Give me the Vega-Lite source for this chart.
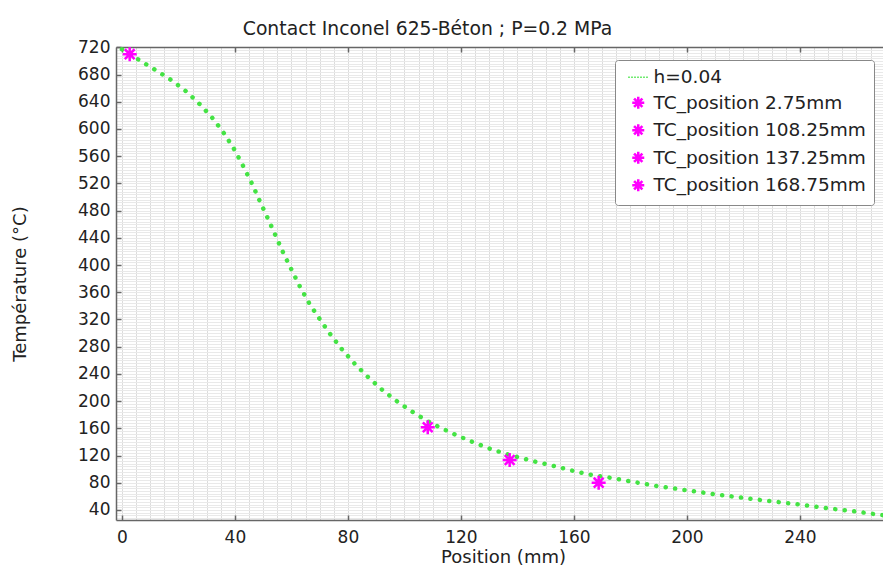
{
  "$schema": "https://vega.github.io/schema/vega-lite/v6.json",
  "width": 767,
  "height": 473,
  "autosize": "none",
  "padding": {"left": 116, "top": 47, "right": 0, "bottom": 48},
  "background": "white",
  "config": {"font": "DejaVu Sans", "view": {"stroke": null}},
  "title": {
    "text": "Contact Inconel 625-Béton ; P=0.2 MPa",
    "fontSize": 18.8,
    "fontWeight": "normal",
    "color": "#222",
    "anchor": "middle",
    "dx": -72,
    "baseline": "alphabetic",
    "offset": -15
  },
  "datasets": {
    "curve": [
      {"x": 0, "T": 717, "serie": "h=0.04"},
      {"x": 2.75, "T": 710, "serie": "h=0.04"},
      {"x": 6.6, "T": 700, "serie": "h=0.04"},
      {"x": 12.3, "T": 685.6, "serie": "h=0.04"},
      {"x": 17.8, "T": 671, "serie": "h=0.04"},
      {"x": 23.1, "T": 654, "serie": "h=0.04"},
      {"x": 27.9, "T": 635, "serie": "h=0.04"},
      {"x": 32.5, "T": 614, "serie": "h=0.04"},
      {"x": 36.5, "T": 591.5, "serie": "h=0.04"},
      {"x": 39.9, "T": 569, "serie": "h=0.04"},
      {"x": 43.1, "T": 544, "serie": "h=0.04"},
      {"x": 46.1, "T": 519, "serie": "h=0.04"},
      {"x": 48.8, "T": 494, "serie": "h=0.04"},
      {"x": 51.7, "T": 468, "serie": "h=0.04"},
      {"x": 54.4, "T": 443, "serie": "h=0.04"},
      {"x": 57.1, "T": 418, "serie": "h=0.04"},
      {"x": 60.1, "T": 392.5, "serie": "h=0.04"},
      {"x": 63.1, "T": 367.5, "serie": "h=0.04"},
      {"x": 66.4, "T": 343, "serie": "h=0.04"},
      {"x": 70.1, "T": 320, "serie": "h=0.04"},
      {"x": 74.0, "T": 297, "serie": "h=0.04"},
      {"x": 78.1, "T": 275, "serie": "h=0.04"},
      {"x": 82.6, "T": 254, "serie": "h=0.04"},
      {"x": 87.3, "T": 234.6, "serie": "h=0.04"},
      {"x": 92.3, "T": 216, "serie": "h=0.04"},
      {"x": 97.6, "T": 199, "serie": "h=0.04"},
      {"x": 103.3, "T": 183, "serie": "h=0.04"},
      {"x": 108, "T": 171, "serie": "h=0.04"},
      {"x": 112, "T": 162.5, "serie": "h=0.04"},
      {"x": 118, "T": 150.7, "serie": "h=0.04"},
      {"x": 124.1, "T": 140, "serie": "h=0.04"},
      {"x": 130.5, "T": 129.7, "serie": "h=0.04"},
      {"x": 136.7, "T": 121.5, "serie": "h=0.04"},
      {"x": 146.4, "T": 111, "serie": "h=0.04"},
      {"x": 152.9, "T": 104.7, "serie": "h=0.04"},
      {"x": 159.5, "T": 97.8, "serie": "h=0.04"},
      {"x": 165, "T": 92.5, "serie": "h=0.04"},
      {"x": 172.7, "T": 87.5, "serie": "h=0.04"},
      {"x": 179.2, "T": 82.6, "serie": "h=0.04"},
      {"x": 189.3, "T": 75.3, "serie": "h=0.04"},
      {"x": 199.3, "T": 69.4, "serie": "h=0.04"},
      {"x": 209.3, "T": 63.5, "serie": "h=0.04"},
      {"x": 219.4, "T": 58.1, "serie": "h=0.04"},
      {"x": 229.1, "T": 53.2, "serie": "h=0.04"},
      {"x": 239.2, "T": 48.4, "serie": "h=0.04"},
      {"x": 249.2, "T": 42.9, "serie": "h=0.04"},
      {"x": 259.1, "T": 38.1, "serie": "h=0.04"},
      {"x": 268.9, "T": 32.6, "serie": "h=0.04"},
      {"x": 272, "T": 31, "serie": "h=0.04"}
    ],
    "tc": [
      {"x": 2.75, "T": 710, "serie": "TC_position 2.75mm"},
      {"x": 108.25, "T": 161.6, "serie": "TC_position 108.25mm"},
      {"x": 137.25, "T": 113.5, "serie": "TC_position 137.25mm"},
      {"x": 168.75, "T": 80.2, "serie": "TC_position 168.75mm"}
    ]
  },
  "encoding": {
    "y": {
      "field": "T",
      "type": "quantitative",
      "scale": {"domain": [25.3, 720.5], "nice": false, "zero": false},
      "axis": {
        "orient": "left",
        "values": [28,32,36,40,44,48,52,56,60,64,68,72,76,80,84,88,92,96,100,104,108,112,116,120,124,128,132,136,140,144,148,152,156,160,164,168,172,176,180,184,188,192,196,200,204,208,212,216,220,224,228,232,236,240,244,248,252,256,260,264,268,272,276,280,284,288,292,296,300,304,308,312,316,320,324,328,332,336,340,344,348,352,356,360,364,368,372,376,380,384,388,392,396,400,404,408,412,416,420,424,428,432,436,440,444,448,452,456,460,464,468,472,476,480,484,488,492,496,500,504,508,512,516,520,524,528,532,536,540,544,548,552,556,560,564,568,572,576,580,584,588,592,596,600,604,608,612,616,620,624,628,632,636,640,644,648,652,656,660,664,668,672,676,680,684,688,692,696,700,704,708,712,716,720],
        "grid": true,
        "gridColor": "#e9e9e9",
        "gridWidth": 1,
        "domainColor": "#666",
        "domainWidth": 1.5,
        "tickColor": "#666",
        "tickWidth": 1.5,
        "tickSize": -5,
        "tickOpacity": {"condition": {"test": "datum.value % 40 === 0", "value": 1}, "value": 0},
        "labelExpr": "datum.value % 40 === 0 ? datum.label : ''",
        "labelOverlap": false,
        "labelFlush": false,
        "labelPadding": 11,
        "labelFontSize": 17,
        "labelColor": "#222",
        "title": "Température (°C)",
        "titleFontSize": 18,
        "titleFontWeight": "normal",
        "titleColor": "#222",
        "titleX": -96,
        "titleY": 236.5,
        "titleAngle": -90,
        "titleAlign": "center",
        "titleBaseline": "middle"
      }
    },
    "color": {
      "field": "serie",
      "type": "nominal",
      "scale": {
        "domain": ["h=0.04", "TC_position 2.75mm", "TC_position 108.25mm", "TC_position 137.25mm", "TC_position 168.75mm"],
        "range": ["#44e344", "#ff00ff", "#ff00ff", "#ff00ff", "#ff00ff"]
      },
      "legend": {
        "orient": "none",
        "legendX": 499,
        "legendY": 13,
        "title": null,
        "fillColor": "white",
        "strokeColor": "#888",
        "cornerRadius": 3,
        "padding": 8,
        "rowPadding": 4.5,
        "symbolOffset": 6,
        "labelFontSize": 18.5,
        "labelColor": "#222",
        "labelOffset": 6,
        "labelLimit": 400,
        "symbolSize": 400,
        "encode": {
          "symbols": {
            "update": {
              "shape": {"signal": "datum.value === 'h=0.04' ? 'stroke' : 'M0,-1L0,1M-1,0L1,0M-0.7,-0.7L0.7,0.7M-0.7,0.7L0.7,-0.7'"},
              "size": {"signal": "datum.value === 'h=0.04' ? 400 : 144"},
              "stroke": {"signal": "datum.value === 'h=0.04' ? '#44e344' : '#ff00ff'"},
              "strokeWidth": {"signal": "datum.value === 'h=0.04' ? 1.5 : 2.5"},
              "strokeDash": {"signal": "datum.value === 'h=0.04' ? [1.5, 1.5] : [1, 0]"},
              "fill": {"value": "transparent"},
              "opacity": {"value": 1}
            }
          }
        }
      }
    }
  },
  "layer": [
    {
      "data": {"name": "curve"},
      "mark": {"type": "line", "strokeWidth": 4.5, "strokeCap": "round", "strokeDash": [0.1, 9.4], "clip": true},
      "encoding": {
        "x": {
          "field": "x",
          "type": "quantitative",
          "scale": {"domain": [-2.1, 269.4], "nice": false, "zero": false},
          "axis": {
            "orient": "top",
            "values": [0, 40, 80, 120, 160, 200, 240],
            "labels": false,
            "grid": false,
            "title": null,
            "domainColor": "#666",
            "domainWidth": 1.5,
            "tickColor": "#666",
            "tickWidth": 1.5,
            "tickSize": -5
          }
        }
      }
    },
    {
      "data": {"name": "tc"},
      "mark": {"type": "point", "shape": "M0,-1L0,1M-1,0L1,0M-0.7,-0.7L0.7,0.7M-0.7,0.7L0.7,-0.7", "filled": false, "size": 196, "strokeWidth": 2.5, "opacity": 1},
      "encoding": {
        "x": {
          "field": "x",
          "type": "quantitative",
          "scale": {"domain": [-2.1, 269.4], "nice": false, "zero": false},
          "axis": {
            "orient": "bottom",
            "values": [0,5,10,15,20,25,30,35,40,45,50,55,60,65,70,75,80,85,90,95,100,105,110,115,120,125,130,135,140,145,150,155,160,165,170,175,180,185,190,195,200,205,210,215,220,225,230,235,240,245,250,255,260,265],
            "grid": true,
            "gridColor": "#dcdcdc",
            "gridWidth": 1,
            "domainColor": "#666",
            "domainWidth": 1.5,
            "tickColor": "#666",
            "tickWidth": 1.5,
            "tickSize": -5,
            "tickOpacity": {"condition": {"test": "datum.value % 40 === 0", "value": 1}, "value": 0},
            "labelExpr": "datum.value % 40 === 0 ? datum.label : ''",
            "labelOverlap": false,
            "labelFlush": false,
            "labelPadding": 14,
            "labelFontSize": 17,
            "labelColor": "#222",
            "title": "Position (mm)",
            "titleFontSize": 18,
            "titleFontWeight": "normal",
            "titleColor": "#222",
            "titleX": 387,
            "titleY": 37.5,
            "titleAlign": "center",
            "titleBaseline": "middle"
          }
        }
      }
    }
  ],
  "resolve": {"axis": {"x": "independent"}}
}
